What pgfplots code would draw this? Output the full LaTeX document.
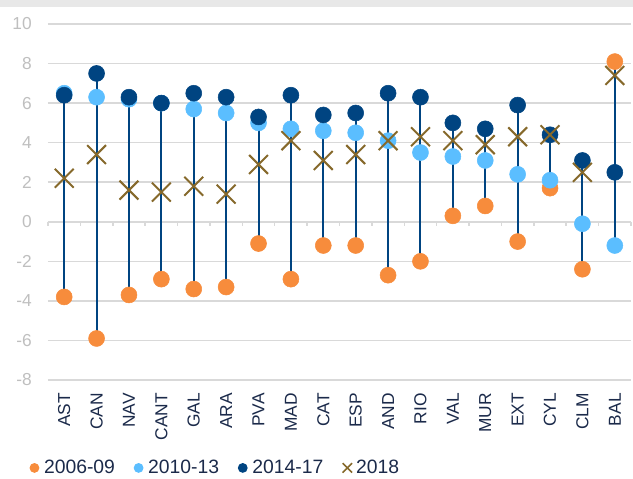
\documentclass[border=0pt]{standalone}
\usepackage{fontspec}
\setmainfont{Liberation Sans}
\usepackage{pgfplots}
\pgfplotsset{compat=1.18}

\definecolor{cOrange}{HTML}{F78C3C}
\definecolor{cLight}{HTML}{5BBEFF}
\definecolor{cDark}{HTML}{004481}
\definecolor{cCross}{HTML}{86692B}
\definecolor{gridgray}{HTML}{D9D9D9}
\definecolor{tickgray}{HTML}{BFBFBF}
\definecolor{textnavy}{HTML}{1B2A4A}
\definecolor{bandgray}{HTML}{E8E8E8}

% values per region: 2006-09, 2010-13, 2014-17, 2018
\pgfplotstableread{
x  a     b     c    d
0  -3.8  6.5   6.4  2.2
1  -5.9  6.3   7.5  3.4
2  -3.7  6.2   6.3  1.6
3  -2.9  6.0   6.0  1.5
4  -3.4  5.7   6.5  1.8
5  -3.3  5.5   6.3  1.4
6  -1.1  5.0   5.3  2.9
7  -2.9  4.7   6.4  4.1
8  -1.2  4.6   5.4  3.1
9  -1.2  4.5   5.5  3.4
10 -2.7  4.1   6.5  4.1
11 -2.0  3.5   6.3  4.3
12  0.3  3.3   5.0  4.1
13  0.8  3.1   4.7  3.9
14 -1.0  2.4   5.9  4.3
15  1.7  2.1   4.4  4.4
16 -2.4 -0.1   3.1  2.5
17  8.1 -1.2   2.5  7.4
}\data

\begin{document}
\begin{tikzpicture}[x=0.75pt,y=0.75pt]
\useasboundingbox (-48,-99) rectangle (585,380);
\fill[bandgray] (-48,373) rectangle (585,380);
\begin{axis}[
    at={(0,0)}, anchor=south west,
    scale only axis,
    width=437.25pt, height=267pt,
    xmin=-0.5, xmax=17.5,
    ymin=-8, ymax=10,
    ytick={-8,-6,...,10},
    xtick={0,...,17},
    xticklabels={AST,CAN,NAV,CANT,GAL,ARA,PVA,MAD,CAT,ESP,AND,RIO,VAL,MUR,EXT,CYL,CLM,BAL},
    axis line style={draw=none},
    major tick length=0pt,
    ymajorgrids=true,
    grid style={gridgray, line width=1.1pt},
    clip=false,
    unbounded coords=jump,
    /pgf/number format/assume math mode=true,
    yticklabel style={anchor=east, inner sep=0pt, text=tickgray, font=\fontsize{13}{15}\selectfont},
    yticklabel shift=12pt,
    xticklabel style={rotate=90, anchor=east, inner sep=0pt, text=textnavy, font=\fontsize{13}{15}\selectfont},
    xticklabel shift=9.75pt,
    legend style={at={(axis description cs:-0.031,-0.247)}, anchor=west,
        draw=none, fill=none, legend columns=-1, inner sep=0pt,
        font=\fontsize{14.5}{16}\selectfont, text=textnavy,
        /tikz/every even column/.append style={column sep=12.5pt}},
    legend image code/.code={\draw[mark size=3.2pt, line width=0.9pt] plot coordinates {(0pt,0pt)}; \path (5pt,0pt);},
]

% small ticks on the zero line
\pgfplotsinvokeforeach{-0.5,0.5,...,17.5}{
  \draw[gridgray, line width=1.1pt] (axis cs:#1,0) -- ([yshift=-3pt]axis cs:#1,0);
}

% high-low lines
\addplot[cDark, line width=1.5pt, forget plot] coordinates {
 (0,-3.8) (0,6.5) (0,nan)
 (1,-5.9) (1,7.5) (1,nan)
 (2,-3.7) (2,6.3) (2,nan)
 (3,-2.9) (3,6.0) (3,nan)
 (4,-3.4) (4,6.5) (4,nan)
 (5,-3.3) (5,6.3) (5,nan)
 (6,-1.1) (6,5.3) (6,nan)
 (7,-2.9) (7,6.4) (7,nan)
 (8,-1.2) (8,5.4) (8,nan)
 (9,-1.2) (9,5.5) (9,nan)
 (10,-2.7) (10,6.5) (10,nan)
 (11,-2.0) (11,6.3) (11,nan)
 (12,0.3) (12,5.0) (12,nan)
 (13,0.8) (13,4.7) (13,nan)
 (14,-1.0) (14,5.9) (14,nan)
 (15,1.7) (15,4.4) (15,nan)
 (16,-2.4) (16,3.1) (16,nan)
 (17,-1.2) (17,8.1)
};

\addplot[only marks, mark=*, mark size=6pt, cOrange] table[x=x, y=a] {\data};
\addlegendentry{2006-09}
\addplot[only marks, mark=*, mark size=6pt, cLight] table[x=x, y=b] {\data};
\addlegendentry{2010-13}
\addplot[only marks, mark=*, mark size=6pt, cDark] table[x=x, y=c] {\data};
\addlegendentry{2014-17}
\addplot[only marks, mark=x, mark size=10pt, line width=1.5pt, cCross,
  legend image code/.code={\draw[mark size=5pt, line width=1.2pt] plot coordinates {(0pt,0pt)}; \path (3.8pt,0pt);}]
  table[x=x, y=d] {\data};
\addlegendentry{2018}

\end{axis}
\end{tikzpicture}
\end{document}
